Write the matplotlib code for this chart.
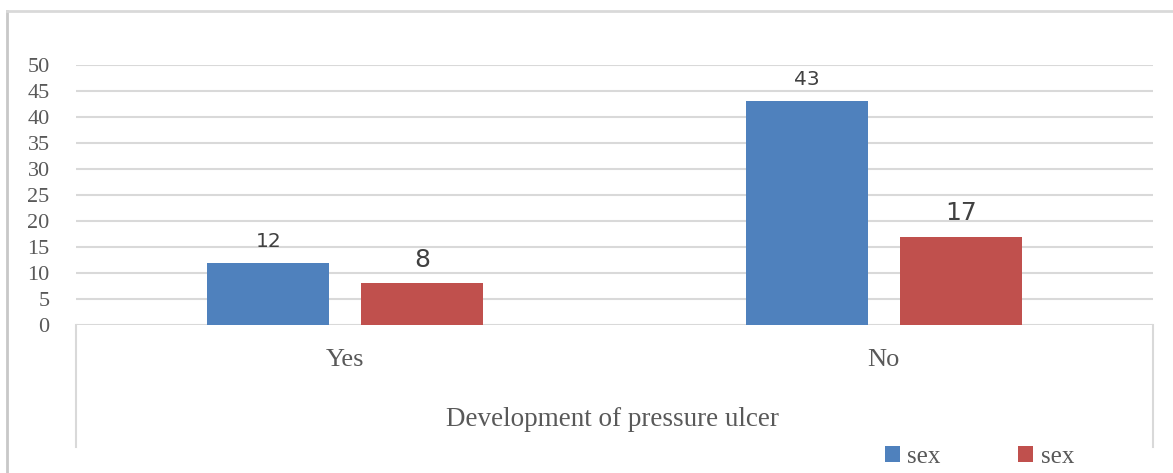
import numpy as np
import matplotlib
matplotlib.use("Agg")
from matplotlib import pyplot as plt
from matplotlib.lines import Line2D

# data
categories = ["Yes", "No"]
series_names = ["sex", "sex"]
blue_vals = [12, 43]
red_vals = [8, 17]
yticks = [0, 5, 10, 15, 20, 25, 30, 35, 40, 45, 50]

W, H = 1173, 473
fig = plt.figure(figsize=(W / 100, H / 100), dpi=100)

def fx(px):
    return px / W

def fy(py):
    return 1 - py / H

# plot area in pixels
left, right, top, bottom = 76, 1153, 65, 325
ax = fig.add_axes([fx(left), fy(bottom), fx(right - left), fy(top) - fy(bottom)])

x = np.arange(len(categories))
bw = 0.2266
off = 0.143
b1 = ax.bar(x - off, blue_vals, bw, color="#4F81BD", zorder=3)
b2 = ax.bar(x + off, red_vals, bw, color="#C0504D", zorder=3)

# data labels
for rect, v in zip(b1, blue_vals):
    ax.annotate(str(v), (rect.get_x() + rect.get_width() / 2, v),
                xytext=(0, 11.5), textcoords="offset points", ha="center",
                va="baseline", fontsize=14.5, color="#404040", family="DejaVu Sans")
for rect, v in zip(b2, red_vals):
    ax.annotate(str(v), (rect.get_x() + rect.get_width() / 2, v),
                xytext=(0, 12), textcoords="offset points", ha="center",
                va="baseline", fontsize=18, color="#404040", family="DejaVu Sans")

ax.set_xlim(-0.5, 1.5)
ax.set_ylim(0, 50)
ax.set_yticks(yticks)
ax.set_yticklabels([str(t) for t in yticks], fontsize=16, color="#595959",
                   family="Liberation Serif")
ax.tick_params(axis="y", length=0, pad=19)
ax.set_xticks([])
ax.grid(axis="y", color="#d9d9d9", lw=1.5, zorder=0)
for s in ax.spines.values():
    s.set_visible(False)

# category box under the plot area
box_bottom = 447
for xp in (left, right):
    fig.add_artist(Line2D([fx(xp), fx(xp)], [fy(bottom), fy(box_bottom)],
                          color="#d9d9d9", lw=1.5))
for i, c in enumerate(categories):
    cx = left + (right - left) * (i + 0.5) / len(categories)
    fig.text(fx(cx), fy(360), c, ha="center", va="center", fontsize=19,
             color="#595959", family="Liberation Serif")

fig.text(fx(612), fy(419), "Development of pressure ulcer", ha="center",
         va="center", fontsize=19.5, color="#595959", family="Liberation Serif")

# outer chart border (left and top visible)
fig.add_artist(Line2D([fx(7), fx(7)], [fy(11), 0], color="#c8c8c8", lw=2))
fig.add_artist(Line2D([fx(7), 1], [fy(11), fy(11)], color="#d9d9d9", lw=2))

leg = fig.legend([b1, b2], series_names, ncol=2, loc="center left",
                 bbox_to_anchor=(fx(885), fy(457)), frameon=False,
                 handlelength=0.6, handleheight=0.6,
                 handletextpad=0.3, columnspacing=3.1, borderpad=0,
                 borderaxespad=0, prop={"family": "Liberation Serif", "size": 18})
for t in leg.get_texts():
    t.set_color("#595959")

fig.savefig("out.png", dpi=100)
